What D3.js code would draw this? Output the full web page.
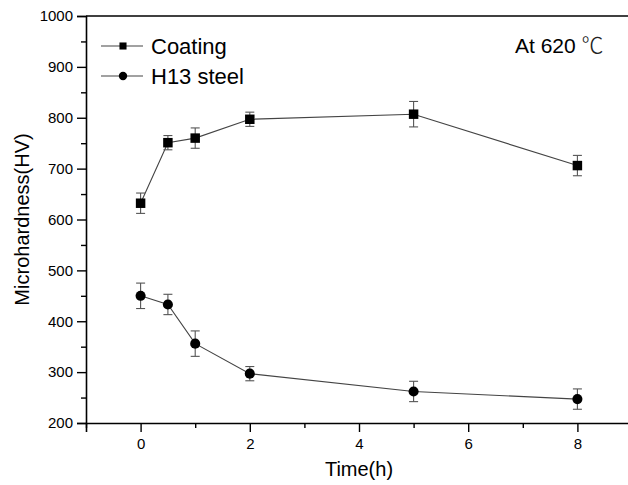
<!DOCTYPE html>
<html>
<head>
<meta charset="utf-8">
<script src="https://cdn.jsdelivr.net/npm/d3@7"></script>
<style>
  body { margin: 0; background: #fff; }
  svg { display: block; font-family: Arial, "Liberation Sans", sans-serif; }
</style>
</head>
<body>
<div id="viz"></div>
<script>
var times = [0, 0.5, 1, 2, 5, 8];
var coating = [632, 751, 760, 797, 807, 706];
var coatingErr = [20, 14, 20, 14, 25, 20];
var steel = [450, 433, 356, 297, 262, 247];
var steelErr = [25, 20, 25, 14, 20, 20];
var xTicks = [0, 2, 4, 6, 8];
var yTicks = [200, 300, 400, 500, 600, 700, 800, 900, 1000];

(function () {
  var width = 628, height = 485;
  var mLeft = 86, mTop = 16, mBottom = 423, mRight = 632;

  var x = d3.scaleLinear().domain([-1, 9]).range([mLeft, mRight]);
  var y = d3.scaleLinear().domain([200, 1000]).range([mBottom, mTop]);

  var svg = d3.select("#viz").append("svg")
    .attr("width", width)
    .attr("height", height);

  // top frame line
  svg.append("line").attr("x1", mLeft).attr("x2", mRight).attr("y1", mTop).attr("y2", mTop)
    .attr("stroke", "#000").attr("stroke-width", 1.6);

  // y axis
  svg.append("g").attr("transform", "translate(" + mLeft + ",0)")
    .call(d3.axisLeft(y).tickValues(yTicks).tickSize(9).tickPadding(4).tickFormat(d3.format("d")));
  svg.append("g").attr("transform", "translate(" + mLeft + ",0)")
    .call(d3.axisLeft(y).tickValues(d3.range(250, 1000, 100)).tickSize(5).tickFormat(""))
    .select(".domain").remove();

  // x axis
  svg.append("g").attr("transform", "translate(0," + mBottom + ")")
    .call(d3.axisBottom(x).tickValues(xTicks).tickSize(9).tickPadding(6));
  svg.append("g").attr("transform", "translate(0," + mBottom + ")")
    .call(d3.axisBottom(x).tickValues([-1, 1, 3, 5, 7, 9]).tickSize(5).tickFormat(""))
    .select(".domain").remove();

  svg.selectAll(".domain").attr("stroke-width", 1.6);
  svg.selectAll(".tick line").attr("stroke-width", 1.4);
  svg.selectAll(".tick text")
    .style("font-size", "15px")
    .style("font-family", "Arial, 'Liberation Sans', sans-serif")
    .attr("fill", "#000");

  // axis titles
  svg.append("text").attr("x", 359).attr("y", 476).attr("text-anchor", "middle")
    .style("font-size", "20px").text("Time(h)");
  svg.append("text").attr("transform", "translate(29," + ((mTop + mBottom) / 2) + ") rotate(-90)")
    .attr("text-anchor", "middle").style("font-size", "20px").text("Microhardness(HV)");

  function drawSeries(vals, errs, shape) {
    var pts = times.map(function(t, i) { return { t: t, v: vals[i], e: errs[i] }; });
    svg.append("path").datum(pts)
      .attr("fill", "none").attr("stroke", "#444").attr("stroke-width", 1.1)
      .attr("d", d3.line().x(function(d) { return x(d.t); }).y(function(d) { return y(d.v); }));

    var eb = svg.append("g").attr("stroke", "#555").attr("stroke-width", 1.1);
    pts.forEach(function(d) {
      var cx = x(d.t);
      eb.append("line").attr("x1", cx).attr("x2", cx).attr("y1", y(d.v - d.e)).attr("y2", y(d.v + d.e));
      eb.append("line").attr("x1", cx - 4.5).attr("x2", cx + 4.5).attr("y1", y(d.v - d.e)).attr("y2", y(d.v - d.e));
      eb.append("line").attr("x1", cx - 4.5).attr("x2", cx + 4.5).attr("y1", y(d.v + d.e)).attr("y2", y(d.v + d.e));
    });

    svg.selectAll(null).data(pts).enter()
      .append("path")
        .attr("transform", function(d) { return "translate(" + x(d.t) + "," + y(d.v) + ")"; })
        .attr("d", d3.symbol().type(shape).size(shape === d3.symbolSquare ? 90 : 80))
        .attr("fill", "#000");
  }

  drawSeries(coating, coatingErr, d3.symbolSquare);
  drawSeries(steel, steelErr, d3.symbolCircle);

  // legend
  var legend = [
    { name: "Coating", shape: d3.symbolSquare, size: 50, yy: 46 },
    { name: "H13 steel", shape: d3.symbolCircle, size: 55, yy: 76 }
  ];
  legend.forEach(function(l) {
    svg.append("line").attr("x1", 101).attr("x2", 143).attr("y1", l.yy).attr("y2", l.yy)
      .attr("stroke", "#444").attr("stroke-width", 1.1);
    svg.append("path").attr("transform", "translate(123," + l.yy + ")")
      .attr("d", d3.symbol().type(l.shape).size(l.size)).attr("fill", "#000");
    svg.append("text").attr("x", 151).attr("y", l.yy + 8).style("font-size", "22px").text(l.name);
  });

  var ann = svg.append("text").attr("x", 515).attr("y", 53).style("font-size", "21px");
  ann.append("tspan").text("At 620 ");
  ann.append("tspan").style("font-family", "'Noto Sans CJK SC', 'DejaVu Sans', sans-serif")
    .style("font-weight", 300).style("font-size", "22px").attr("fill", "#222").text("℃");
})();
</script>
</body>
</html>
